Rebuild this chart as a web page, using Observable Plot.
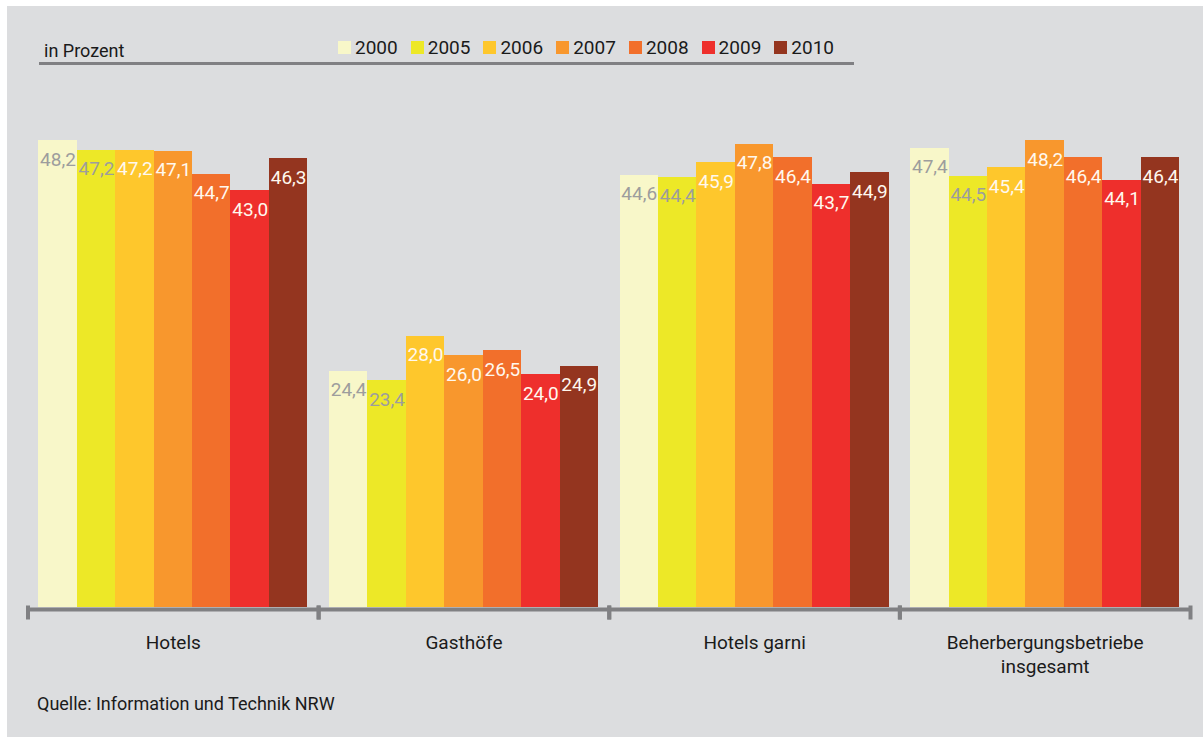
<!DOCTYPE html>
<html><head><meta charset="utf-8">
<script src="https://cdn.jsdelivr.net/npm/d3@7"></script>
<script src="https://cdn.jsdelivr.net/npm/@observablehq/plot@0.6"></script>
<style>
html,body{margin:0;padding:0;background:#fff;}
body{width:1203px;height:737px;overflow:hidden;position:relative;font-family:Roboto,"Open Sans",sans-serif;color:#1a1a1a;}
#panel{position:absolute;left:7px;top:6px;width:1196px;height:731px;background:#dcdddf;}
#unit{position:absolute;left:44px;top:42px;font-size:18px;line-height:18px;white-space:nowrap;}
#legend{position:absolute;left:338px;top:38px;font-size:19px;line-height:19px;white-space:nowrap;display:flex;}
#legend .item{margin-right:13px;}
#legend .sw{display:inline-block;width:13px;height:13px;margin-right:4px;vertical-align:baseline;}
#hrule{position:absolute;left:39px;top:62px;width:815px;height:3px;background:#808083;}
#chart{position:absolute;left:0;top:80px;}
#caption{position:absolute;left:37px;top:695px;font-size:18px;line-height:18px;white-space:nowrap;}
</style></head>
<body>
<div id="panel"></div>
<div id="unit">in Prozent</div>
<div id="legend"></div>
<div id="hrule"></div>
<div id="chart"></div>
<div id="caption">Quelle: Information und Technik NRW</div>
<script>
const categories = ["Hotels", "Gasthöfe", "Hotels garni", "Beherbergungsbetriebe\ninsgesamt"];
const years = ["2000", "2005", "2006", "2007", "2008", "2009", "2010"];
const colors = ["#f8f7c9", "#ede827", "#fec72c", "#f8972d", "#f26f2b", "#ee2f2c", "#94351f"];
const hotels = [48.2, 47.2, 47.2, 47.1, 44.7, 43.0, 46.3];
const gasthoefe = [24.4, 23.4, 28.0, 26.0, 26.5, 24.0, 24.9];
const hotelsGarni = [44.6, 44.4, 45.9, 47.8, 46.4, 43.7, 44.9];
const insgesamt = [47.4, 44.5, 45.4, 48.2, 46.4, 44.1, 46.4];
const series = [hotels, gasthoefe, hotelsGarni, insgesamt];

const data = [];
categories.forEach((c, i) => years.forEach((y, j) => data.push({group: c, year: y, value: series[i][j]})));

const lightYears = new Set(["2000", "2005"]);
const fmt = v => v.toFixed(1).replace(".", ",");
const axisGrey = "#808083";

// legend
const legend = d3.select("#legend");
years.forEach((y, i) => {
  const it = legend.append("span").attr("class", "item");
  it.append("span").attr("class", "sw").style("background", colors[i]);
  it.append("span").text(y);
});

const plot = Plot.plot({
  width: 1203,
  height: 610,
  marginLeft: 27.5,
  marginRight: 13,
  marginTop: 42.5,
  marginBottom: 83,
  style: {background: "transparent", fontFamily: "Roboto, 'Open Sans', sans-serif", overflow: "visible", color: "#1a1a1a"},
  fx: {domain: categories, padding: 0, round: false, label: null},
  x: {domain: years, paddingInner: 0, paddingOuter: 0.28, round: false, axis: null},
  y: {domain: [0, 50], axis: null},
  color: {domain: years, range: colors},
  marks: [
    Plot.barY(data, {fx: "group", x: "year", y: "value", fill: "year", shapeRendering: "crispEdges"}),
    Plot.ruleY([0], {stroke: axisGrey, strokeWidth: 4, dy: 2}),
    Plot.frame({anchor: "left", stroke: axisGrey, strokeWidth: 4, insetTop: 484.5, insetBottom: -10}),
    Plot.frame({anchor: "right", stroke: axisGrey, strokeWidth: 4, insetTop: 484.5, insetBottom: -10}),
    Plot.text(data, {
      fx: "group", x: "year", y: "value",
      text: d => fmt(d.value),
      dy: 19, fontSize: 19,
      fill: d => lightYears.has(d.year) ? "#9d9d9d" : "#fff8ee"
    }),
    Plot.axisFx({anchor: "bottom", tickSize: 0, tickPadding: 25, fontSize: 19, lineHeight: 1.25, label: null, fill: "#1a1a1a"})
  ]
});
document.getElementById("chart").appendChild(plot);
</script>
</body></html>
